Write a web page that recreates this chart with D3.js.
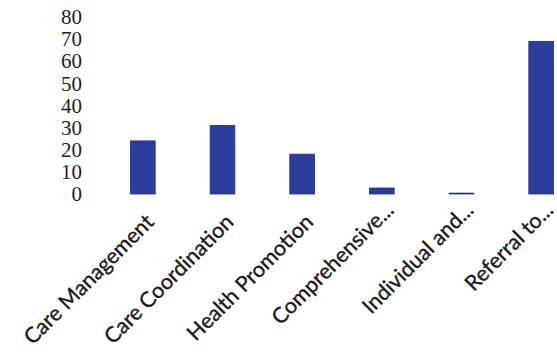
<!DOCTYPE html>
<html>
<head>
    <meta charset="utf-8">
    <title>Services</title>
    <script src="https://d3js.org/d3.v7.min.js"></script>
    <style type="text/css">
        body { margin: 0; background: #ffffff; }
        svg { background: #ffffff; display: block; }
        .ylab { font-family: "Liberation Serif", "DejaVu Serif", serif; font-size: 21px; fill: #222; }
        .xlab { font-family: Lato, "Open Sans", sans-serif; font-size: 21.5px; fill: #1a1a1a; stroke: #1a1a1a; stroke-width: 0.35; }
    </style>
</head>
<body>
<div id="chart"></div>
<script>
var categories = ["Care Management", "Care Coordination", "Health Promotion",
                  "Comprehensive...", "Individual and...", "Referral to..."]
var values = [24, 31, 18, 2.7, 0.4, 69]
var yTicks = [0, 10, 20, 30, 40, 50, 60, 70, 80]

var width = 557, height = 354

var svg = d3.select("#chart")
    .append("svg")
    .attr("width", width)
    .attr("height", height)

// the plot runs off the right edge, like the source image
var x = d3.scaleBand()
    .domain(categories)
    .range([103, 581])
    .paddingInner(0.69)
    .paddingOuter(0.345)

var y = d3.scaleLinear()
    .domain([0, 80])
    .range([194, 17])

var yAxis = svg.append("g")
    .attr("transform", "translate(82,0)")
    .call(d3.axisLeft(y).tickValues(yTicks).tickSize(0).tickPadding(0))
yAxis.select(".domain").remove()
yAxis.selectAll("text").attr("class", "ylab").attr("font-size", null).attr("font-family", null)

svg.selectAll(".bar")
    .data(values)
    .enter().append("rect")
    .attr("class", "bar")
    .attr("x", (d, i) => x(categories[i]))
    .attr("y", d => y(d))
    .attr("width", x.bandwidth())
    .attr("height", d => y(0) - y(d))
    .attr("fill", "#2b3e9e")
    .attr("stroke", "#1f2d86")
    .attr("stroke-width", 0.8)

// truncated labels sit a bit higher, as excel lays them out
svg.selectAll(".xlab")
    .data(categories)
    .enter().append("text")
    .attr("class", "xlab")
    .attr("text-anchor", "end")
    .attr("transform", function(d) {
        var cx = x(d) + x.bandwidth() / 2
        var cut = d.slice(-3) == "..."
        return "translate(" + (cx + (cut ? 8 : 7)) + "," + (cut ? 206 : 218) + ") rotate(-45)"
    })
    .attr("dy", "0.35em")
    .text(d => d)
</script>
</body>
</html>
